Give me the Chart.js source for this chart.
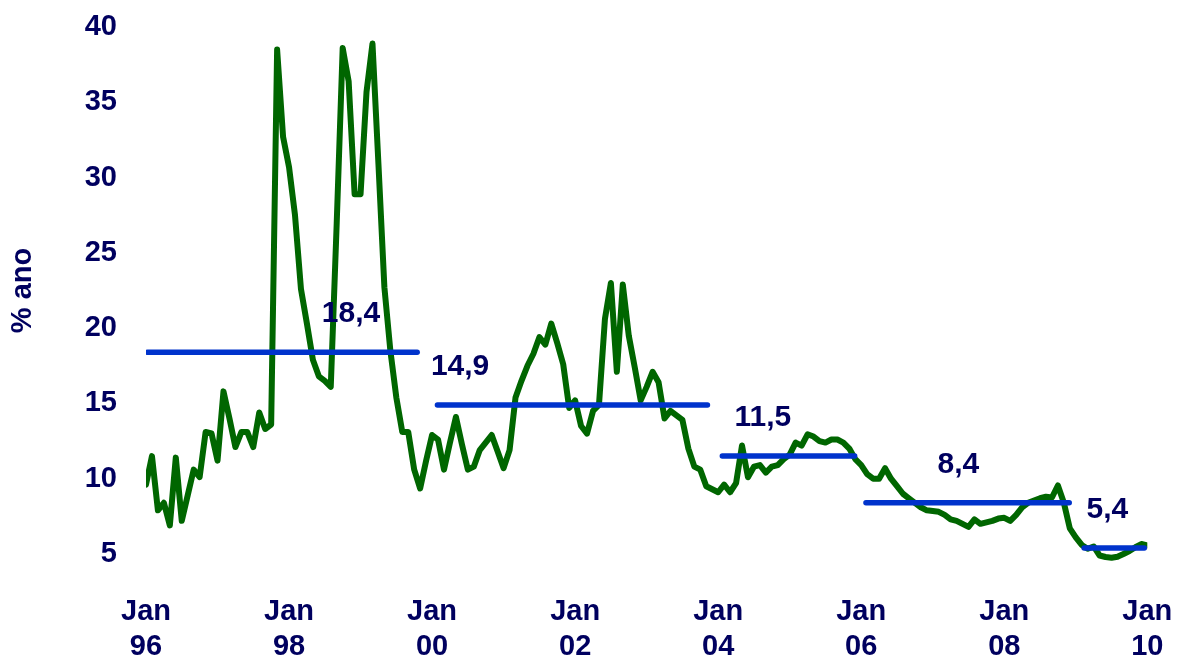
<!DOCTYPE html>
<html>
<head>
<meta charset="utf-8">
<script src="https://cdn.jsdelivr.net/npm/chart.js@4.4.1/dist/chart.umd.min.js"></script>
<style>
html,body{margin:0;padding:0;background:#ffffff;}
#wrap{width:1181px;height:662px;position:relative;}
</style>
</head>
<body>
<div id="wrap"><canvas id="c" width="1181" height="662"></canvas></div>
<script>
// Monthly series, Jan 96 .. Jan 10 (month index 0..168), % ano
const rate = [
  9.6, 11.5, 7.9, 8.4, 6.9, 11.4, 7.2, 8.9, 10.6, 10.1, 13.1, 13.0,
  11.2, 15.8, 14.0, 12.1, 13.1, 13.1, 12.1, 14.4, 13.3, 13.6, 38.5, 32.7,
  30.7, 27.5, 22.6, 20.3, 17.9, 16.8, 16.5, 16.1, 27.0, 38.6, 36.4, 28.9,
  28.9, 35.7, 38.9, 30.9, 22.7, 18.5, 15.4, 13.1, 13.1, 10.6, 9.35, 11.2,
  12.9, 12.6, 10.6, 12.4, 14.1, 12.3, 10.6, 10.8, 11.9, 12.4, 12.9, 11.8,
  10.7, 11.9, 15.4, 16.5, 17.5, 18.3, 19.4, 18.9, 20.3, 19.0, 17.6, 14.7,
  15.2, 13.5, 13.0, 14.5, 14.9, 20.6, 23.0, 17.1, 22.9, 19.5, 17.4, 15.2,
  16.1, 17.1, 16.4, 14.0, 14.5, 14.2, 13.9, 12.0, 10.8, 10.6, 9.5, 9.3,
  9.1, 9.6, 9.1, 9.7, 12.2, 10.1, 10.8, 10.9, 10.4, 10.8, 10.9, 11.3,
  11.6, 12.4, 12.2, 12.95, 12.8, 12.5, 12.4, 12.6, 12.6, 12.4, 12.0, 11.3,
  10.9, 10.3, 10.0, 10.0, 10.7, 10.0, 9.5, 9.0, 8.7, 8.4, 8.1, 7.9,
  7.85, 7.8, 7.6, 7.3, 7.2, 7.0, 6.8, 7.3, 7.0, 7.1, 7.2, 7.35,
  7.4, 7.2, 7.6, 8.1, 8.4, 8.55, 8.7, 8.8, 8.75, 9.55, 8.4, 6.7,
  6.1, 5.6, 5.35, 5.5, 4.9, 4.8, 4.75, 4.82, 5.0, 5.2, 5.45, 5.66,
  5.57
];

// Period averages (value, first and last month index of each period)
const avgValues = [18.4, 14.9, 11.5, 8.4, 5.4];
const avgStart  = [0.25, 48.9, 96.7, 120.8, 157.4];
const avgEnd    = [45.5, 94.2, 118.9, 154.9, 167.5];
const avgLabels = ["18,4", "14,9", "11,5", "8,4", "5,4"];

// Axis ticks
const xTickMonths = [0, 24, 48, 72, 96, 120, 144, 168];
const xTickLabels = [["Jan","96"],["Jan","98"],["Jan","00"],["Jan","02"],["Jan","04"],["Jan","06"],["Jan","08"],["Jan","10"]];
const yTicks = [5, 10, 15, 20, 25, 30, 35, 40];
const yTitle = "% ano";

const NAVY = "#00005f";
const GREEN = "#006600";
const BLUE = "#0033cc";
const FONT = "'Liberation Sans', Arial, Helvetica, sans-serif";

const datasets = [];
avgValues.forEach((v, k) => {
  datasets.push({
    label: "média " + avgLabels[k],
    data: [{x: avgStart[k], y: v}, {x: avgEnd[k], y: v}],
    borderColor: BLUE,
    borderWidth: 5.5,
    borderCapStyle: "round",
    pointRadius: 0,
    order: 0
  });
});
datasets.push({
  label: "% ano",
  data: rate.map((v, i) => ({x: i, y: v})),
  borderColor: GREEN,
  borderWidth: 6,
  borderJoinStyle: "round",
  borderCapStyle: "round",
  pointRadius: 0,
  tension: 0,
  order: 1
});

const avgLabelPlugin = {
  id: "avgLabels",
  afterDatasetsDraw(chart, args, opts) {
    const ctx = chart.ctx;
    const xs = chart.scales.x, ys = chart.scales.y;
    ctx.save();
    ctx.font = "bold 30px " + FONT;
    ctx.fillStyle = NAVY;
    ctx.textAlign = "center";
    ctx.textBaseline = "middle";
    avgLabels.forEach((t, k) => {
      const px = xs.getPixelForValue(opts.at[k]);
      const py = ys.getPixelForValue(avgValues[k]) - opts.lift;
      ctx.fillText(t, px, py);
    });
    ctx.restore();
  }
};

function zeroPad(s) { s.paddingTop = 0; s.paddingBottom = 0; s.paddingLeft = 0; s.paddingRight = 0; }

new Chart(document.getElementById("c"), {
  type: "line",
  data: { datasets },
  plugins: [avgLabelPlugin],
  options: {
    responsive: false,
    animation: false,
    devicePixelRatio: 1,
    layout: { padding: { top: 19.5, right: 33.7, left: 0, bottom: 0 } },
    plugins: {
      legend: { display: false },
      tooltip: { enabled: false },
      avgLabels: { at: [34.4, 52.7, 103.5, 136.3, 161.3], lift: 38 }
    },
    scales: {
      x: {
        type: "linear",
        min: 0,
        max: 168,
        grid: { display: false, drawTicks: false },
        border: { display: false },
        afterBuildTicks: (s) => { s.ticks = xTickMonths.map(v => ({value: v})); },
        afterFit: (s) => { s.height = 100.5; zeroPad(s); },
        ticks: {
          autoSkip: false,
          maxRotation: 0,
          padding: 33,
          color: NAVY,
          font: { family: FONT, size: 29, weight: "bold", lineHeight: 1.2 },
          callback: (v) => {
            const k = xTickMonths.indexOf(v);
            return k >= 0 ? xTickLabels[k] : "";
          }
        }
      },
      y: {
        min: 4.5,
        max: 40.5,
        grid: { display: false, drawTicks: false },
        border: { display: false },
        afterBuildTicks: (s) => { s.ticks = yTicks.map(v => ({value: v})); },
        afterFit: (s) => { s.width = 146; zeroPad(s); },
        title: {
          display: true,
          text: yTitle,
          color: NAVY,
          font: { family: FONT, size: 29, weight: "bold", lineHeight: 1.2 },
          padding: { top: 6, bottom: 0 }
        },
        ticks: {
          padding: 29,
          color: NAVY,
          font: { family: FONT, size: 29, weight: "bold" }
        }
      }
    }
  }
});
</script>
</body>
</html>
